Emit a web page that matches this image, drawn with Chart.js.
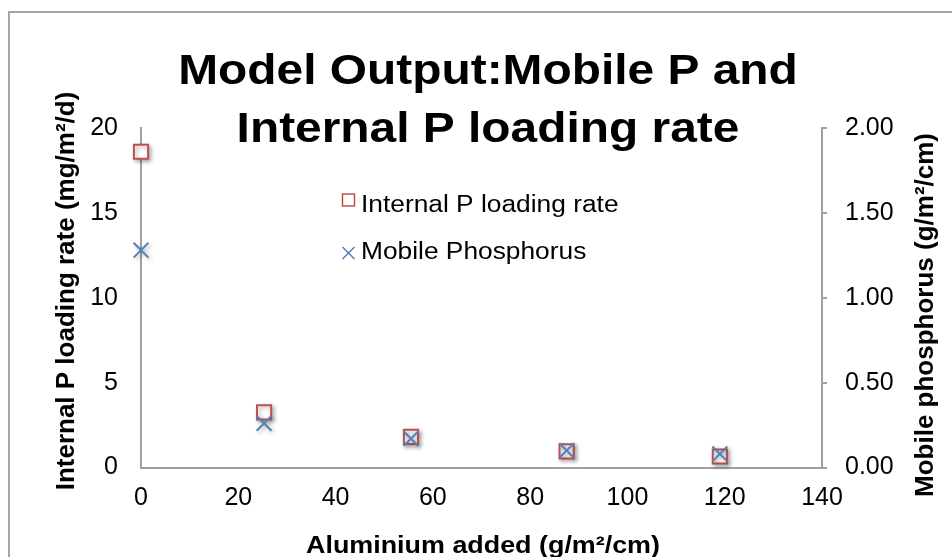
<!DOCTYPE html>
<html>
<head>
<meta charset="utf-8">
<script src="https://cdn.jsdelivr.net/npm/chart.js@4.4.1/dist/chart.umd.min.js"></script>
<style>
  html, body { margin: 0; padding: 0; background: #fff; }
  canvas { display: block; }
</style>
</head>
<body>
<canvas id="modelChart" width="952" height="557"></canvas>
<script>
// values
const aluminiumAdded   = [0, 25.3, 55.5, 87.5, 119];
const internalPRate    = [18.6, 3.25, 1.8, 0.95, 0.65];
const mobilePhosphorus = [1.28, 0.26, 0.17, 0.10, 0.08];

const titleLines  = ['Model Output:Mobile P and', 'Internal P loading rate'];
const xTitle      = 'Aluminium added (g/m²/cm)';
const yLeftTitle  = 'Internal P loading rate (mg/m²/d)';
const yRightTitle = 'Mobile phosphorus (g/m²/cm)';
const seriesNames = ['Internal P loading rate', 'Mobile Phosphorus'];

const FONT = '"Liberation Sans", Arial, sans-serif';
const RED = '#C0504D';
const BLUE = '#4F81BD';
const AXIS_GREY = '#a0a0a0';

function toPoints(xs, ys) {
  return xs.map((x, i) => ({ x, y: ys[i] }));
}

// text drawn a little wider than the font, like the reference
function wideText(ctx, text, x, y, font, sx, align) {
  ctx.save();
  ctx.translate(x, y);
  ctx.scale(sx, 1);
  ctx.font = font;
  ctx.textAlign = align || 'center';
  ctx.textBaseline = 'alphabetic';
  ctx.fillStyle = '#000';
  ctx.fillText(text, 0, 0);
  ctx.restore();
}

function rotatedText(ctx, text, x, y, font) {
  ctx.save();
  ctx.translate(x, y);
  ctx.rotate(-Math.PI / 2);
  ctx.font = font;
  ctx.textAlign = 'center';
  ctx.textBaseline = 'middle';
  ctx.fillStyle = '#000';
  ctx.fillText(text, 0, 0);
  ctx.restore();
}

// frame, titles and the legend that sits inside the plot
const decorations = {
  id: 'decorations',
  beforeDraw(chart) {
    const ctx = chart.ctx;
    ctx.save();
    ctx.fillStyle = '#fff';
    ctx.fillRect(0, 0, chart.width, chart.height);
    ctx.strokeStyle = '#a5a5a5';
    ctx.lineWidth = 2;
    ctx.strokeRect(9, 12, 2000, 2000);
    ctx.restore();
  },
  beforeDatasetsDraw(chart) {
    const ctx = chart.ctx;
    ctx.save();
    ctx.shadowColor = 'rgba(0,0,0,0.3)';
    ctx.shadowBlur = 4;
    ctx.shadowOffsetX = 2;
    ctx.shadowOffsetY = 2;
  },
  afterDatasetsDraw(chart) {
    chart.ctx.restore();
  },
  afterDraw(chart) {
    const ctx = chart.ctx;

    wideText(ctx, titleLines[0], 488, 84, 'bold 42px ' + FONT, 1.14);
    wideText(ctx, titleLines[1], 488, 142, 'bold 42px ' + FONT, 1.14);

    wideText(ctx, xTitle, 483, 553, 'bold 24px ' + FONT, 1.12);
    rotatedText(ctx, yLeftTitle, 67, 291, 'bold 26px ' + FONT);
    rotatedText(ctx, yRightTitle, 926, 315, 'bold 26px ' + FONT);

    // legend
    ctx.save();
    ctx.lineWidth = 1.5;
    ctx.strokeStyle = RED;
    ctx.strokeRect(342.5, 194, 12, 12);
    ctx.strokeStyle = BLUE;
    ctx.beginPath();
    ctx.moveTo(342.5, 247); ctx.lineTo(354.5, 259);
    ctx.moveTo(354.5, 247); ctx.lineTo(342.5, 259);
    ctx.stroke();
    ctx.restore();
    wideText(ctx, seriesNames[0], 361, 212, '23.5px ' + FONT, 1.12, 'left');
    wideText(ctx, seriesNames[1], 361, 259, '23.5px ' + FONT, 1.12, 'left');
  }
};

const tickFont = { family: FONT, size: 25 };

new Chart(document.getElementById('modelChart').getContext('2d'), {
  type: 'scatter',
  data: {
    datasets: [{
      label: seriesNames[0],
      data: toPoints(aluminiumAdded, internalPRate),
      yAxisID: 'y',
      pointStyle: 'rect',
      pointRadius: 10,
      pointHoverRadius: 10,
      borderColor: RED,
      backgroundColor: '#fff',
      borderWidth: 2,
      clip: false,
      order: 2
    }, {
      label: seriesNames[1],
      data: toPoints(aluminiumAdded, mobilePhosphorus),
      yAxisID: 'y1',
      pointStyle: 'crossRot',
      pointRadius: 10.5,
      pointHoverRadius: 10.5,
      borderColor: BLUE,
      backgroundColor: BLUE,
      borderWidth: 2,
      clip: false,
      order: 1
    }]
  },
  options: {
    responsive: false,
    animation: false,
    events: [],
    layout: { padding: { top: 128, left: 0, right: 0, bottom: 0 } },
    plugins: {
      legend: { display: false },
      title: { display: false },
      tooltip: { enabled: false }
    },
    scales: {
      x: {
        type: 'linear',
        min: 0,
        max: 140,
        ticks: { stepSize: 20, padding: 16, color: '#000', font: tickFont },
        grid: { display: false, drawTicks: false },
        border: { color: AXIS_GREY, width: 2 },
        afterFit: s => { s.height = 89.5; }
      },
      y: {
        position: 'left',
        min: 0,
        max: 20,
        ticks: { stepSize: 5, padding: 23, color: '#000', font: tickFont },
        grid: { display: false, drawTicks: false },
        border: { color: AXIS_GREY, width: 2 },
        afterFit: s => { s.width = 141; }
      },
      y1: {
        position: 'right',
        min: 0,
        max: 2,
        ticks: {
          stepSize: 0.5,
          padding: 18,
          color: '#000',
          font: tickFont,
          callback: v => v.toFixed(2)
        },
        grid: { drawOnChartArea: false, drawTicks: true, tickLength: 5, color: AXIS_GREY, lineWidth: 2 },
        border: { color: AXIS_GREY, width: 2 },
        afterFit: s => { s.width = 130; }
      }
    }
  },
  plugins: [decorations]
});
</script>
</body>
</html>
